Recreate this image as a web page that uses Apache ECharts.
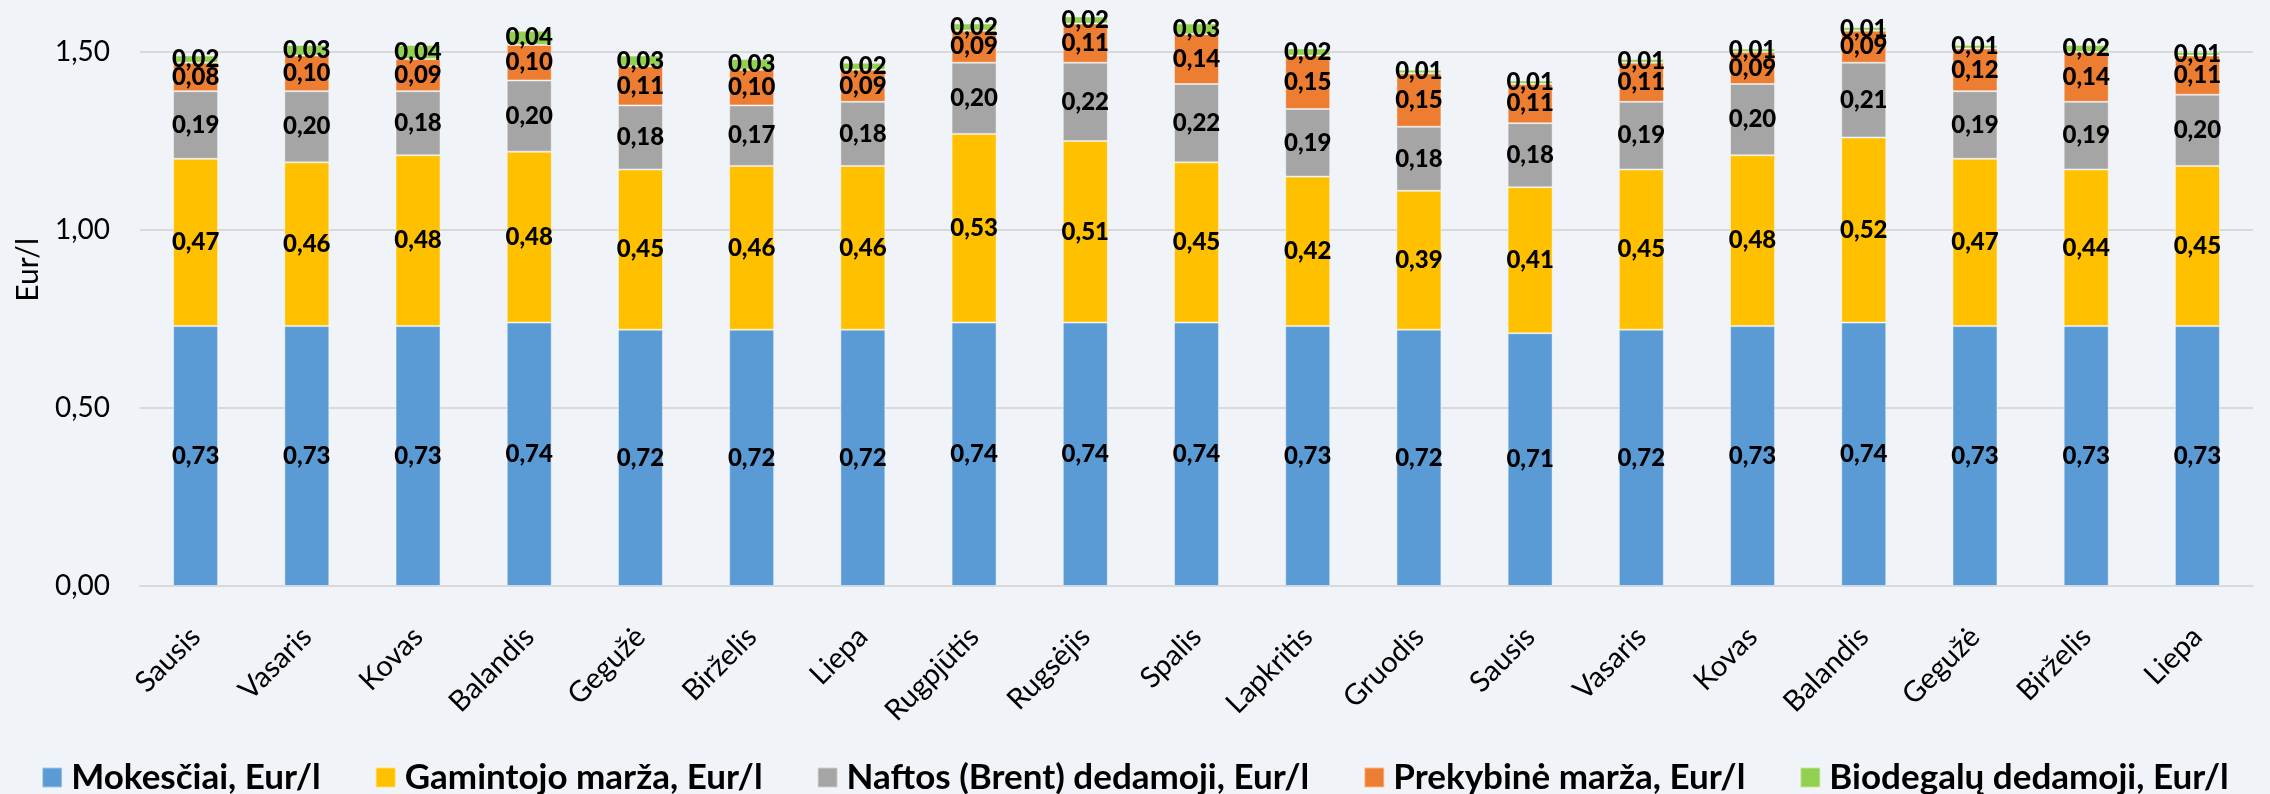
<!DOCTYPE html>
<html>
<head>
<meta charset="utf-8">
<script src="https://cdn.jsdelivr.net/npm/echarts@6/dist/echarts.min.js"></script>
<style>
html,body{margin:0;padding:0;background:#F0F3F7;}
#chart{width:2270px;height:794px;}
</style>
</head>
<body>
<div id="chart"></div>
<script>
const categories = ['Sausis','Vasaris','Kovas','Balandis','Gegužė','Birželis','Liepa','Rugpjūtis','Rugsėjis','Spalis','Lapkritis','Gruodis','Sausis','Vasaris','Kovas','Balandis','Gegužė','Birželis','Liepa'];
const mokesciai = [0.73,0.73,0.73,0.74,0.72,0.72,0.72,0.74,0.74,0.74,0.73,0.72,0.71,0.72,0.73,0.74,0.73,0.73,0.73];
const gamintojo = [0.47,0.46,0.48,0.48,0.45,0.46,0.46,0.53,0.51,0.45,0.42,0.39,0.41,0.45,0.48,0.52,0.47,0.44,0.45];
const naftos = [0.19,0.20,0.18,0.20,0.18,0.17,0.18,0.20,0.22,0.22,0.19,0.18,0.18,0.19,0.20,0.21,0.19,0.19,0.20];
const prekybine = [0.08,0.10,0.09,0.10,0.11,0.10,0.09,0.09,0.11,0.14,0.15,0.15,0.11,0.11,0.09,0.09,0.12,0.14,0.11];
const biodegalu = [0.02,0.03,0.04,0.04,0.03,0.03,0.02,0.02,0.02,0.03,0.02,0.01,0.01,0.01,0.01,0.01,0.01,0.02,0.01];
const seriesNames = ['Mokesčiai, Eur/l','Gamintojo marža, Eur/l','Naftos (Brent) dedamoji, Eur/l','Prekybinė marža, Eur/l','Biodegalų dedamoji, Eur/l'];
const colors = ['#5B9BD5','#FFC000','#A5A5A5','#ED7D31','#92D050'];
const yTicks = [0, 0.5, 1.0, 1.5];

const fmt = v => Number(v).toFixed(2).replace('.', ',');
const FONT = 'Lato';
const chart = echarts.init(document.getElementById('chart'), null, {renderer:'canvas'});
const allData = [mokesciai, gamintojo, naftos, prekybine, biodegalu];
const series = allData.map((d, i) => ({
  name: seriesNames[i],
  type: 'bar',
  stack: 'total',
  data: d,
  barWidth: 45,
  clip: false,
  itemStyle: {color: colors[i], borderColor: 'rgba(255,255,255,0.45)', borderWidth: 1},
  label: {
    show: true,
    position: 'inside',
    formatter: p => fmt(p.value),
    color: '#000',
    fontFamily: FONT,
    fontWeight: 900,
    fontSize: 24
  },
  emphasis: {disabled: true}
}));

chart.setOption({
  backgroundColor: '#F0F3F7',
  animation: false,
  color: colors,
  grid: {left: 140, right: 17, top: 52, bottom: 208, containLabel: false},
  xAxis: {
    type: 'category',
    data: categories,
    axisTick: {show: false},
    axisLine: {lineStyle: {color: '#D9D9D9', width: 2}},
    axisLabel: {
      rotate: 45,
      interval: 0,
      margin: 46,
      color: '#000',
      fontFamily: FONT,
      fontSize: 29
    }
  },
  yAxis: {
    type: 'value',
    min: yTicks[0],
    max: yTicks[yTicks.length - 1],
    interval: 0.5,
    axisLine: {show: false},
    axisTick: {show: false},
    splitLine: {lineStyle: {color: '#D9D9D9', width: 2}},
    axisLabel: {
      formatter: v => fmt(v),
      margin: 30,
      color: '#000',
      fontFamily: FONT,
      fontSize: 28
    }
  },
  legend: {
    data: seriesNames,
    left: 'center',
    top: 755,
    itemWidth: 20,
    itemHeight: 20,
    itemGap: 54,
    icon: 'rect',
    textStyle: {color: '#000', fontFamily: FONT, fontWeight: 'bold', fontSize: 35, padding: [0, 0, 0, 4]}
  },
  graphic: [{
    type: 'text',
    left: 13,
    top: 238,
    rotation: Math.PI / 2,
    style: {text: 'Eur/l', fill: '#000', font: '30px Lato'}
  }],
  series: series
});
</script>
</body>
</html>
